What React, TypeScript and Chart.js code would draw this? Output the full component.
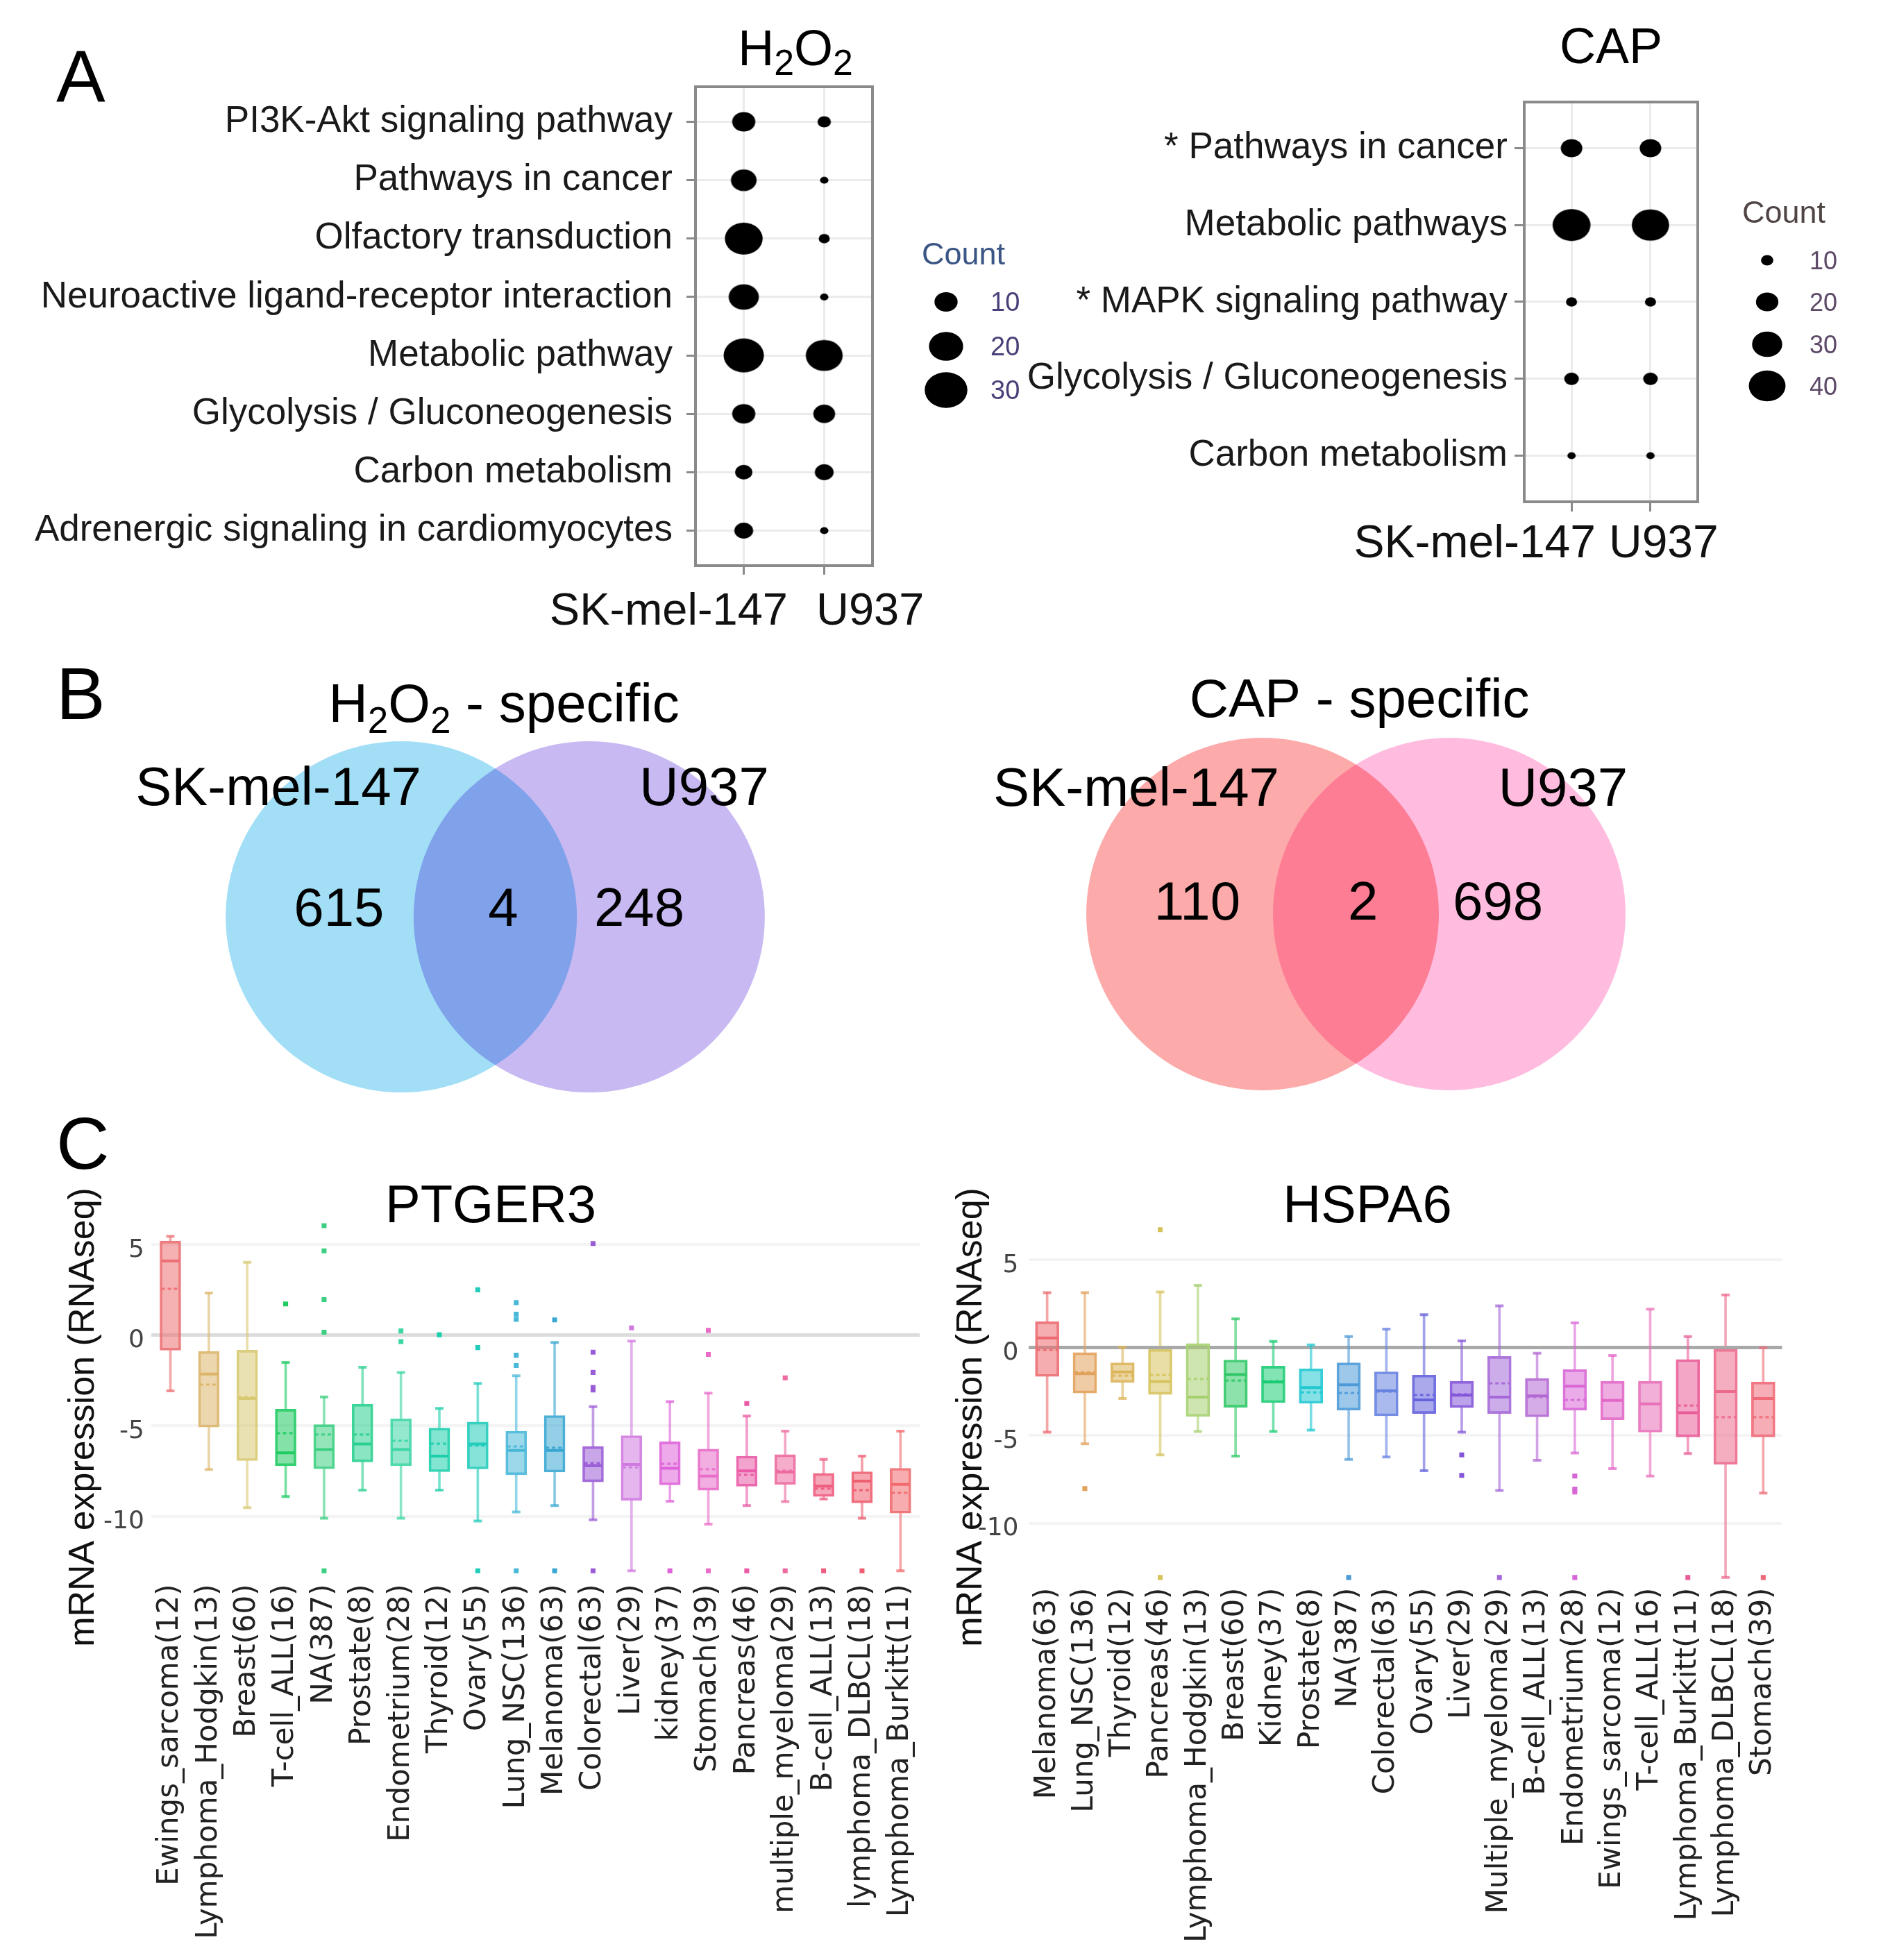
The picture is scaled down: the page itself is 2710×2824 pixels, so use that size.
import React, { useEffect, useRef } from 'react';
import { Chart, registerables } from 'chart.js';

Chart.register(...registerables);

const SANS = '"Liberation Sans", Arial, Helvetica, sans-serif';
const DEJAVU = '"DejaVu Sans", Verdana, sans-serif';

// ---------------- Panel A data ----------------
const cellLines = ['SK-mel-147', 'U937'];
const h2o2Pathways = [
  'PI3K-Akt signaling pathway',
  'Pathways in cancer',
  'Olfactory transduction',
  'Neuroactive ligand-receptor interaction',
  'Metabolic pathway',
  'Glycolysis / Gluconeogenesis',
  'Carbon metabolism',
  'Adrenergic signaling in cardiomyocytes',
];
const h2o2CountSK = [10, 12, 24, 16, 27, 10, 6, 7];
const h2o2CountU937 = [4, 2, 3, 2, 23, 9, 7, 2];
const h2o2LegendCounts = [10, 20, 30];

const capPathways = [
  '* Pathways in cancer',
  'Metabolic pathways',
  '* MAPK signaling pathway',
  'Glycolysis / Gluconeogenesis',
  'Carbon metabolism',
];
const capCountSK = [19, 42, 9, 12, 7];
const capCountU937 = [19, 41, 9, 12, 7];
const capLegendCounts = [10, 20, 30, 40];

// ---------------- Panel B data ----------------
const vennSetNames = ['SK-mel-147', 'U937'];
const vennH2O2Counts = [615, 4, 248];
const vennCapCounts = [110, 2, 698];

// ---------------- Panel C data ----------------
const ptger3Labels = [
  'Ewings_sarcoma(12)', 'Lymphoma_Hodgkin(13)', 'Breast(60)', 'T-cell_ALL(16)', 'NA(387)',
  'Prostate(8)', 'Endometrium(28)', 'Thyroid(12)', 'Ovary(55)', 'Lung_NSC(136)',
  'Melanoma(63)', 'Colorectal(63)', 'Liver(29)', 'kidney(37)', 'Stomach(39)',
  'Pancreas(46)', 'multiple_myeloma(29)', 'B-cell_ALL(13)', 'lymphoma_DLBCL(18)', 'Lymphoma_Burkitt(11)',
];
const ptger3Low = [-3.07, -7.41, -9.51, -8.9, -10.1, -8.55, -10.1, -8.55, -10.25, -9.75, -9.4, -10.18, -13.0, -9.16, -10.42, -9.4, -9.18, -9.04, -10.1, -13.0];
const ptger3Q1 = [-0.82, -5.07, -6.92, -7.2, -7.37, -6.99, -7.2, -7.53, -7.38, -7.7, -7.55, -8.09, -9.11, -8.26, -8.55, -8.33, -8.23, -8.9, -9.25, -9.82];
const ptger3Median = [4.1, -2.14, -3.49, -6.49, -6.31, -6.0, -6.31, -6.67, -6.0, -6.35, -6.35, -7.2, -7.13, -7.34, -7.77, -7.48, -7.55, -8.33, -8.05, -8.23];
const ptger3Mean = [2.57, -2.73, -3.4, -5.4, -5.47, -5.47, -5.82, -5.99, -6.1, -6.14, -6.2, -7.06, -7.3, -7.1, -7.38, -7.7, -7.48, -8.47, -8.55, -8.69];
const ptger3Q3 = [5.2, -0.89, -0.82, -4.08, -4.93, -3.8, -4.61, -5.12, -4.79, -5.29, -4.43, -6.14, -5.54, -5.88, -6.28, -6.67, -6.59, -7.62, -7.53, -7.34];
const ptger3High = [5.46, 2.33, 4.03, -1.5, -3.4, -1.77, -2.05, -4.04, -2.66, -2.24, -0.4, -3.94, -0.32, -3.66, -3.19, -4.46, -5.29, -6.85, -6.67, -5.29];
const ptger3Outliers: number[][] = [
  [], [], [], [1.73], [6.05, 4.66, 1.97, 0.17, -13.0],
  [], [0.24, -0.35], [0.03], [2.51, -0.68, -13.0], [1.8, 1.16, 0.88, -1.1, -1.67, -13.0],
  [0.85, -13.0], [5.06, -0.93, -2.05, -2.88, -3.02, -13.0], [0.41], [-13.0], [0.27, -1.06, -13.0],
  [-3.77, -13.0], [-2.35, -13.0], [-13.0], [-13.0], [],
];
const ptger3Colors = [
  '#ec6f73', '#dcb56a', '#d8c973', '#1fcb62', '#3ccf82',
  '#29d08f', '#3dd6a5', '#1ccfab', '#22ccbb', '#49b8d8',
  '#3aa7d3', '#9a5cd6', '#d07ae0', '#de62d8', '#e86cc8',
  '#ea5aa6', '#ec6aa0', '#ee5c80', '#ee5e70', '#f06a6e',
];

const hspa6Labels = [
  'Melanoma(63)', 'Lung_NSC(136)', 'Thyroid(12)', 'Pancreas(46)', 'Lymphoma_Hodgkin(13)',
  'Breast(60)', 'Kidney(37)', 'Prostate(8)', 'NA(387)', 'Colorectal(63)',
  'Ovary(55)', 'Liver(29)', 'Multiple_myeloma(29)', 'B-cell_ALL(13)', 'Endometrium(28)',
  'Ewings_sarcoma(12)', 'T-cell_ALL(16)', 'Lymphoma_Burkitt(11)', 'Lymphoma_DLBCL(18)', 'Stomach(39)',
];
const hspa6Low = [-4.81, -5.47, -2.89, -6.1, -4.77, -6.17, -4.77, -4.69, -6.36, -6.22, -7.0, -4.81, -8.13, -6.41, -5.99, -6.88, -7.31, -6.02, -13.08, -8.28];
const hspa6Q1 = [-1.64, -2.58, -1.98, -2.66, -3.91, -3.39, -3.13, -3.17, -3.56, -3.88, -3.75, -3.41, -3.75, -3.94, -3.56, -4.1, -4.81, -5.08, -6.64, -5.08];
const hspa6Median = [0.55, -1.48, -1.38, -1.92, -2.81, -1.53, -1.95, -2.27, -2.11, -2.45, -2.97, -2.7, -2.81, -2.74, -2.19, -3.0, -3.2, -3.7, -2.5, -2.89];
const hspa6Mean = [-0.13, -1.4, -1.6, -1.56, -1.77, -1.88, -1.9, -2.55, -2.58, -2.5, -2.69, -2.65, -2.03, -2.8, -2.97, -2.97, -3.2, -3.3, -3.94, -3.94];
const hspa6Q3 = [1.48, -0.28, -0.86, 0.0, 0.24, -0.7, -1.05, -1.2, -0.86, -1.37, -1.56, -1.91, -0.5, -1.75, -1.25, -1.91, -1.91, -0.67, 0.0, -1.95];
const hspa6High = [3.13, 3.13, 0.03, 3.17, 3.55, 1.64, 0.36, 0.16, 0.63, 1.06, 1.88, 0.39, 2.38, -0.31, 1.41, -0.44, 2.19, 0.63, 3.0, 0.0];
const hspa6Outliers: number[][] = [
  [], [-8.02], [], [6.72, -13.08], [],
  [], [], [], [-13.08], [],
  [], [-6.1, -7.27], [-13.08], [], [-7.31, -8.05, -8.21, -13.08],
  [], [], [-13.08], [], [-13.08],
];
const hspa6Colors = [
  '#ec6a70', '#e2a25c', '#dcb45a', '#d6c35c', '#a6d070',
  '#2fc866', '#1ccc74', '#20c8d2', '#4c9ad8', '#6682e0',
  '#6462dc', '#8456d8', '#a468d8', '#b468d4', '#d866d6',
  '#e268c8', '#e870b8', '#ea5c98', '#ec6a8c', '#ee6a78',
];

// ---------------- helpers ----------------
type Part = { t: string; sub?: boolean };
type Letter = { text: string; x: number; y: number; font: number } | null;

function rgba(hex: string, a: number) {
  const h = hex.replace('#', '');
  const r = parseInt(h.slice(0, 2), 16);
  const g = parseInt(h.slice(2, 4), 16);
  const b = parseInt(h.slice(4, 6), 16);
  return `rgba(${r},${g},${b},${a})`;
}

function drawRich(ctx: CanvasRenderingContext2D, parts: Part[], x: number, capY: number, size: number, align: 'center' | 'left' | 'right', color = '#000', subScale = 0.68) {
  const subSize = size * subScale;
  const widths = parts.map((p) => {
    ctx.font = `${p.sub ? subSize : size}px ${SANS}`;
    return ctx.measureText(p.t).width;
  });
  const total = widths.reduce((a, b) => a + b, 0);
  let cx = align === 'center' ? x - total / 2 : align === 'right' ? x - total : x;
  const base = capY + 0.358 * size;
  ctx.fillStyle = color;
  ctx.textAlign = 'left';
  ctx.textBaseline = 'alphabetic';
  parts.forEach((p, i) => {
    ctx.font = `${p.sub ? subSize : size}px ${SANS}`;
    ctx.fillText(p.t, cx, p.sub ? base + 0.2 * size : base);
    cx += widths[i];
  });
}

function drawText(ctx: CanvasRenderingContext2D, s: string, x: number, y: number, size: number, align: CanvasTextAlign, color = '#000', family = SANS) {
  ctx.font = `${size}px ${family}`;
  ctx.fillStyle = color;
  ctx.textAlign = align;
  ctx.textBaseline = 'middle';
  ctx.fillText(s, x, y);
}

function drawLetter(ctx: CanvasRenderingContext2D, L: Letter) {
  if (!L) return;
  ctx.save();
  ctx.font = `${L.font}px ${SANS}`;
  ctx.fillStyle = '#000';
  ctx.textAlign = 'left';
  ctx.textBaseline = 'alphabetic';
  ctx.fillText(L.text, L.x, L.y);
  ctx.restore();
}

// dots of panel A are slightly wider than tall in the reference
const DOT_RATIO = 1.19;
const ellipseCache = new Map<string, HTMLCanvasElement>();
function ellipseImg(r: number) {
  const key = r.toFixed(2);
  let c = ellipseCache.get(key);
  if (!c) {
    const rx = Math.max(0.5, r * DOT_RATIO);
    const ry = Math.max(0.5, r);
    c = document.createElement('canvas');
    c.width = Math.ceil(2 * rx) + 2;
    c.height = Math.ceil(2 * ry) + 2;
    const g = c.getContext('2d')!;
    g.fillStyle = '#000';
    g.beginPath();
    g.ellipse(c.width / 2, c.height / 2, rx, ry, 0, 0, Math.PI * 2);
    g.fill();
    ellipseCache.set(key, c);
  }
  return c;
}

const h2o2Radius = (c: number) => Math.max(0, 5.1 * Math.sqrt(c) - 2.1);
const capRadius = (c: number) => Math.max(0, 4.67 * Math.sqrt(c) - 7.3);

// ---------------- Panel A: dot plots ----------------
const h2o2Layout = {
  W: 1500, H: 940, left: 1002, right: 1257, top: 125, bottom: 815,
  tickLen: 13, tickPad: 20, labelFont: 53,
  xLabelY: 882, xLabelFont: 65, skRight: 1135, uLeft: 1176,
  title: [{ t: 'H' }, { t: '2', sub: true }, { t: 'O' }, { t: '2', sub: true }] as Part[],
  titleX: 1146, titleY: 68, titleFont: 72,
  legTitleX: 1328, legTitleY: 369, legTitleFont: 45, legTitleColor: '#3b5584',
  legCircleX: 1363, legYs: [435, 499, 562], legLabelX: 1427, legLabelFont: 38, legLabelColor: '#4a3f78',
  letter: { text: 'A', x: 81, y: 146, font: 106 } as Letter,
};

const capLayout = {
  W: 1310, H: 880, left: 796, right: 1046, top: 147, bottom: 723,
  tickLen: 14, tickPad: 10, labelFont: 53,
  xLabelY: 785, xLabelFont: 66, skRight: 899, uLeft: 918,
  title: [{ t: 'CAP' }] as Part[],
  titleX: 921, titleY: 65, titleFont: 72,
  legTitleX: 1110, legTitleY: 309, legTitleFont: 45, legTitleColor: '#504545',
  legCircleX: 1146, legYs: [375, 435, 496, 556], legLabelX: 1207, legLabelFont: 36, legLabelColor: '#5e4a68',
  letter: null as Letter,
};

type DotLayout = typeof h2o2Layout;

function makeDotConfig(rows: string[], sk: number[], u: number[], legendCounts: number[], rFn: (c: number) => number, L: DotLayout): any {
  const n = rows.length;
  const gridColor = '#ebebeb';
  const tickColor = '#8a8a8a';
  const frame = {
    id: 'frame',
    afterDraw(chart: any) {
      const { ctx, chartArea: a } = chart;
      ctx.save();
      ctx.strokeStyle = '#8a8a8a';
      ctx.lineWidth = 4;
      ctx.strokeRect(a.left, a.top, a.right - a.left, a.bottom - a.top);
      ctx.restore();
    },
  };
  const texts = {
    id: 'texts',
    afterDraw(chart: any) {
      const ctx: CanvasRenderingContext2D = chart.ctx;
      ctx.save();
      drawRich(ctx, L.title, L.titleX, L.titleY, L.titleFont, 'center', '#000', 0.72);
      drawText(ctx, cellLines[0], L.skRight, L.xLabelY, L.xLabelFont, 'right', '#111');
      drawText(ctx, cellLines[1], L.uLeft, L.xLabelY, L.xLabelFont, 'left', '#111');
      drawText(ctx, 'Count', L.legTitleX, L.legTitleY, L.legTitleFont, 'left', L.legTitleColor);
      legendCounts.forEach((c, i) => {
        const r = rFn(c);
        ctx.beginPath();
        ctx.ellipse(L.legCircleX, L.legYs[i], r * DOT_RATIO, r, 0, 0, Math.PI * 2);
        ctx.fillStyle = '#000';
        ctx.fill();
        drawText(ctx, String(c), L.legLabelX, L.legYs[i] + 3, L.legLabelFont, 'left', L.legLabelColor);
      });
      ctx.restore();
      drawLetter(ctx, L.letter);
    },
  };
  return {
    type: 'scatter',
    data: {
      datasets: [sk, u].map((counts, k) => ({
        label: cellLines[k],
        data: counts.map((c, i) => ({ x: k + 1, y: n - i, c })),
        pointStyle: (ctx: any) => ellipseImg(ctx.raw ? rFn(ctx.raw.c) : 1),
        pointRadius: 10,
        pointHoverRadius: 10,
        pointBackgroundColor: '#000',
        pointBorderWidth: 0,
      })),
    },
    options: {
      animation: false,
      responsive: false,
      devicePixelRatio: 1,
      events: [],
      layout: { padding: { left: 0, right: L.W - L.right, top: L.top, bottom: 0 } },
      plugins: { legend: { display: false }, tooltip: { enabled: false } },
      scales: {
        x: {
          type: 'linear', min: 0.4, max: 2.6,
          afterBuildTicks: (s: any) => { s.ticks = cellLines.map((_, i) => ({ value: i + 1 })); },
          afterFit: (s: any) => { s.height = L.H - L.bottom; },
          ticks: { display: false },
          grid: { color: gridColor, lineWidth: 3, drawTicks: true, tickLength: L.tickLen, tickColor, tickWidth: 3 },
          border: { display: false },
        },
        y: {
          type: 'linear', min: 0.4, max: n + 0.6,
          afterBuildTicks: (s: any) => { s.ticks = rows.map((_, i) => ({ value: i + 1 })); },
          afterFit: (s: any) => { s.width = L.left; },
          ticks: {
            autoSkip: false,
            callback: (v: number) => rows[n - Math.round(v)],
            font: { family: SANS, size: L.labelFont },
            color: '#1a1a1a',
            padding: L.tickPad,
          },
          grid: { color: gridColor, lineWidth: 3, drawTicks: true, tickLength: L.tickLen, tickColor, tickWidth: 3 },
          border: { display: false },
        },
      },
    },
    plugins: [frame, texts],
  };
}

// ---------------- Panel B: Venn diagrams ----------------
const vennLeftLayout = {
  W: 1355, H: 690, cx: 713.5, cy: 391, unit: 253, d: 0.535,
  title: [{ t: 'H' }, { t: '2', sub: true }, { t: 'O' }, { t: '2', sub: true }, { t: ' - specific' }] as Part[],
  titlePos: [0.05, -1.22], setPos: [[-1.235, -0.72], [1.19, -0.72]],
  countPos: [[-0.89, -0.035], [0.045, -0.035], [0.82, -0.035]],
  font: 78, colors: ['#a2dff7', '#c8b9f2'],
  letter: { text: 'B', x: 81, y: 106, font: 106 } as Letter,
};
const vennRightLayout = {
  W: 1355, H: 690, cx: 598.5, cy: 387, unit: 254, d: 0.5295,
  title: [{ t: 'CAP - specific' }] as Part[],
  titlePos: [0.02, -1.23], setPos: [[-1.246, -0.7], [1.175, -0.7]],
  countPos: [[-0.9, -0.055], [0.04, -0.055], [0.805, -0.055]],
  font: 78, colors: ['#fdaaaa', '#ffbcdf'],
  letter: null as Letter,
};
type VennLayout = typeof vennLeftLayout;

function makeVennConfig(counts: number[], L: VennLayout): any {
  const multiply = {
    id: 'multiply',
    beforeDatasetsDraw(chart: any) { chart.ctx.save(); chart.ctx.globalCompositeOperation = 'multiply'; },
    afterDatasetsDraw(chart: any) { chart.ctx.restore(); },
  };
  const texts = {
    id: 'vtexts',
    afterDraw(chart: any) {
      const ctx: CanvasRenderingContext2D = chart.ctx;
      const sx = chart.scales.x;
      const sy = chart.scales.y;
      const px = (p: number[]) => [sx.getPixelForValue(p[0]), sy.getPixelForValue(p[1])];
      ctx.save();
      const t = px(L.titlePos);
      drawRich(ctx, L.title, t[0], t[1], L.font, 'center');
      vennSetNames.forEach((s, i) => {
        const p = px(L.setPos[i]);
        drawText(ctx, s, p[0], p[1], L.font, 'center');
      });
      counts.forEach((c, i) => {
        const p = px(L.countPos[i]);
        drawText(ctx, String(c), p[0], p[1], L.font, 'center');
      });
      ctx.restore();
      drawLetter(ctx, L.letter);
    },
  };
  const unitPx = (chart: any) => {
    const s = chart.scales && chart.scales.x;
    return s ? s.getPixelForValue(1) - s.getPixelForValue(0) : L.unit;
  };
  return {
    type: 'scatter',
    data: {
      datasets: [{
        data: [{ x: -L.d, y: 0, r: 1 }, { x: L.d, y: 0, r: 1 }],
        pointRadius: (ctx: any) => (ctx.raw ? ctx.raw.r * unitPx(ctx.chart) : 0),
        pointHoverRadius: (ctx: any) => (ctx.raw ? ctx.raw.r * unitPx(ctx.chart) : 0),
        pointBackgroundColor: (ctx: any) => L.colors[ctx.dataIndex] || L.colors[0],
        pointBorderWidth: 0,
      }],
    },
    options: {
      animation: false, responsive: false, devicePixelRatio: 1, events: [],
      layout: { padding: 0 },
      plugins: { legend: { display: false }, tooltip: { enabled: false } },
      scales: {
        x: { type: 'linear', display: false, min: -L.cx / L.unit, max: (L.W - L.cx) / L.unit },
        y: { type: 'linear', display: false, reverse: true, min: -L.cy / L.unit, max: (L.H - L.cy) / L.unit },
      },
    },
    plugins: [multiply, texts],
  };
}

// ---------------- Panel C: box plots ----------------
const ptgerLayout = {
  W: 1370, H: 1234, left: 217.8, right: 1325, top: 161.6, bottom: 686.3, yMin: -13.5, yMax: 6.6,
  boxPx: 30, capR: 6, tickPad: 10, xLabelPad: 6,
  title: 'PTGER3', titleX: 707, titleY: 150, yTitleX: 121, yTitleY: 452, zeroColor: '#dcdcdc',
  letter: { text: 'C', x: 81, y: 94, font: 106 } as Letter,
};
const hspaLayout = {
  W: 1360, H: 1234, left: 131.5, right: 1217.5, top: 167, bottom: 693.5, yMin: -13.5, yMax: 7.3,
  boxPx: 34, capR: 6, tickPad: 14, xLabelPad: 4,
  title: 'HSPA6', titleX: 620, titleY: 150, yTitleX: 50, yTitleY: 452, zeroColor: '#a9a9a9',
  letter: null as Letter,
};
type BoxLayout = typeof ptgerLayout;

function makeDashImage(color: string, w: number) {
  const c = document.createElement('canvas');
  c.width = w;
  c.height = 4;
  const g = c.getContext('2d')!;
  g.strokeStyle = rgba(color, 0.95);
  g.lineWidth = 3;
  g.setLineDash([5, 4]);
  g.beginPath();
  g.moveTo(0, 2);
  g.lineTo(w, 2);
  g.stroke();
  return c;
}

function makeBoxConfig(labels: string[], low: number[], q1: number[], med: number[], mean: number[], q3: number[], high: number[], outliers: number[][], colors: string[], L: BoxLayout): any {
  const n = labels.length;
  const idx = labels.map((_, i) => i);
  const col = (i: number, a: number) => rgba(colors[Math.max(0, Math.min(n - 1, i))], a);
  const dashImgs = colors.map((c) => makeDashImage(c, L.boxPx - 4));
  const rawIdx = (ctx: any) => (ctx.raw ? Math.round(ctx.raw.x) : 0);
  const texts = {
    id: 'btexts',
    afterDraw(chart: any) {
      const ctx: CanvasRenderingContext2D = chart.ctx;
      ctx.save();
      drawText(ctx, L.title, L.titleX, L.titleY, 76, 'center', '#000');
      ctx.translate(L.yTitleX, L.yTitleY);
      ctx.rotate(-Math.PI / 2);
      drawText(ctx, 'mRNA expression (RNAseq)', 0, 0, 52, 'center', '#111');
      ctx.restore();
      drawLetter(ctx, L.letter);
    },
  };
  return {
    type: 'bar',
    data: {
      datasets: [
        {
          type: 'bar', order: 7, grouped: false, barThickness: 3, borderWidth: 0,
          data: idx.map((i) => ({ x: i, y: [low[i], q1[i]] })),
          backgroundColor: (ctx: any) => col(ctx.dataIndex, 0.6),
        },
        {
          type: 'bar', order: 7, grouped: false, barThickness: 3, borderWidth: 0,
          data: idx.map((i) => ({ x: i, y: [q3[i], high[i]] })),
          backgroundColor: (ctx: any) => col(ctx.dataIndex, 0.6),
        },
        {
          type: 'bar', order: 6, grouped: false, barThickness: L.boxPx, borderWidth: 3, borderSkipped: false,
          data: idx.map((i) => ({ x: i, y: [q1[i], q3[i]] })),
          backgroundColor: (ctx: any) => col(ctx.dataIndex, 0.55),
          borderColor: (ctx: any) => col(ctx.dataIndex, 0.9),
        },
        {
          type: 'scatter', order: 5,
          data: idx.flatMap((i) => [{ x: i, y: low[i] }, { x: i, y: high[i] }]),
          pointStyle: 'line', pointRadius: L.capR, pointHoverRadius: L.capR, pointBorderWidth: 4,
          pointBorderColor: (ctx: any) => col(rawIdx(ctx), 0.75),
        },
        {
          type: 'scatter', order: 4,
          data: idx.map((i) => ({ x: i, y: mean[i] })),
          pointStyle: (ctx: any) => dashImgs[ctx.dataIndex] || dashImgs[0],
          pointRadius: 10,
        },
        {
          type: 'scatter', order: 3,
          data: idx.map((i) => ({ x: i, y: med[i] })),
          pointStyle: 'line', pointRadius: L.boxPx / 2 - 2, pointHoverRadius: L.boxPx / 2 - 2, pointBorderWidth: 4,
          pointBorderColor: (ctx: any) => col(ctx.dataIndex, 1),
        },
        {
          type: 'scatter', order: 2,
          data: outliers.flatMap((arr, i) => arr.map((v) => ({ x: i, y: v }))),
          pointStyle: 'rect', pointRadius: 5, pointHoverRadius: 5, pointBorderWidth: 0,
          pointBackgroundColor: (ctx: any) => col(rawIdx(ctx), 1),
        },
      ],
    },
    options: {
      animation: false, responsive: false, devicePixelRatio: 1, events: [],
      layout: { padding: { left: 0, right: L.W - L.right, top: L.top, bottom: 0 } },
      plugins: { legend: { display: false }, tooltip: { enabled: false } },
      scales: {
        x: {
          type: 'linear', min: -0.5, max: n - 0.5, offset: false,
          afterBuildTicks: (s: any) => { s.ticks = labels.map((_, i) => ({ value: i })); },
          afterFit: (s: any) => { s.height = L.H - L.bottom; },
          ticks: {
            autoSkip: false, minRotation: 90, maxRotation: 90,
            font: { family: DEJAVU, size: 42 }, color: '#222', padding: L.xLabelPad,
            callback: (v: number) => labels[Math.round(v)],
          },
          grid: { display: false, drawTicks: false },
          border: { display: false },
        },
        y: {
          type: 'linear', min: L.yMin, max: L.yMax,
          afterBuildTicks: (s: any) => { s.ticks = [-10, -5, 0, 5].map((v) => ({ value: v })); },
          afterFit: (s: any) => { s.width = L.left; },
          ticks: {
            font: { family: DEJAVU, size: 36 }, color: '#444', padding: L.tickPad, labelOffset: 8,
            callback: (v: number) => String(v),
          },
          grid: {
            drawTicks: false,
            color: (ctx: any) => (ctx.tick && ctx.tick.value === 0 ? L.zeroColor : '#f4f4f4'),
            lineWidth: (ctx: any) => (ctx.tick && ctx.tick.value === 0 ? 5 : 4),
          },
          border: { display: false },
        },
      },
    },
    plugins: [texts],
  };
}

// ---------------- React ----------------
type Spec = { key: string; left: number; top: number; width: number; height: number; make: () => any };

function ChartBox({ spec }: { spec: Spec }) {
  const ref = useRef<HTMLCanvasElement>(null);
  useEffect(() => {
    if (!ref.current) return;
    const chart = new Chart(ref.current, spec.make());
    return () => chart.destroy();
  }, []);
  return (
    <div style={{ position: 'absolute', left: spec.left, top: spec.top, width: spec.width, height: spec.height }}>
      <canvas ref={ref} width={spec.width} height={spec.height} style={{ display: 'block', width: spec.width, height: spec.height }} />
    </div>
  );
}

const specs: Spec[] = [
  { key: 'h2o2', left: 0, top: 0, width: 1500, height: 940,
    make: () => makeDotConfig(h2o2Pathways, h2o2CountSK, h2o2CountU937, h2o2LegendCounts, h2o2Radius, h2o2Layout) },
  { key: 'cap', left: 1400, top: 0, width: 1310, height: 880,
    make: () => makeDotConfig(capPathways, capCountSK, capCountU937, capLegendCounts, capRadius, capLayout as DotLayout) },
  { key: 'vennL', left: 0, top: 930, width: 1355, height: 690,
    make: () => makeVennConfig(vennH2O2Counts, vennLeftLayout) },
  { key: 'vennR', left: 1355, top: 930, width: 1355, height: 690,
    make: () => makeVennConfig(vennCapCounts, vennRightLayout as VennLayout) },
  { key: 'ptger3', left: 0, top: 1590, width: 1370, height: 1234,
    make: () => makeBoxConfig(ptger3Labels, ptger3Low, ptger3Q1, ptger3Median, ptger3Mean, ptger3Q3, ptger3High, ptger3Outliers, ptger3Colors, ptgerLayout) },
  { key: 'hspa6', left: 1350, top: 1590, width: 1360, height: 1234,
    make: () => makeBoxConfig(hspa6Labels, hspa6Low, hspa6Q1, hspa6Median, hspa6Mean, hspa6Q3, hspa6High, hspa6Outliers, hspa6Colors, hspaLayout as BoxLayout) },
];

export default function App() {
  return (
    <div style={{ position: 'absolute', left: 0, top: 0, width: 2710, height: 2824, background: '#fff', overflow: 'hidden' }}>
      {specs.map((s) => (
        <ChartBox key={s.key} spec={s} />
      ))}
    </div>
  );
}
